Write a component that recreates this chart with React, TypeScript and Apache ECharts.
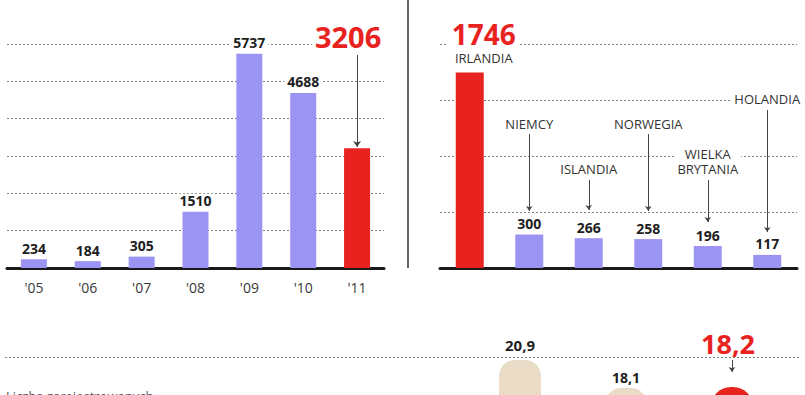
import React, { useEffect, useRef } from "react";
import * as echarts from "echarts";

const years = ["'05", "'06", "'07", "'08", "'09", "'10", "'11"];
const yearValues = [234, 184, 305, 1510, 5737, 4688, 3206];

const countries = ["IRLANDIA", "NIEMCY", "ISLANDIA", "NORWEGIA", "WIELKA\nBRYTANIA", "HOLANDIA"];
const countryValues = [1746, 300, 266, 258, 196, 117];

const bottomCats = ["'09", "'10", "'11"];
const bottomValues = [20.9, 18.1, 18.2];

const FONT = "Open Sans";
const LAV = "#9c94f3";
const RED = "#e8231f";
const BEIGE = "#ebdcc7";
const DOT = { type: [2, 2] as any, color: "#808080", width: 1 };

export default function App() {
  const ref = useRef<HTMLDivElement>(null);
  useEffect(() => {
    document.body.style.margin = "0";
    document.body.style.overflow = "hidden";
    const chart = echarts.init(ref.current!, null, { renderer: "svg" });
    const valLabel = {
      show: true,
      position: "top",
      distance: 4,
      fontFamily: FONT,
      fontWeight: "bold",
      fontSize: 14,
      color: "#1e1e1e",
      backgroundColor: "#fff",
      padding: [0, 3],
    };
    const countryLeaders: Record<string, [number, number, number]> = {
      NIEMCY: [1196, 509, 3],
      ISLANDIA: [786, 518, 3],
      NORWEGIA: [1196, 509, 3],
      "WIELKA\nBRYTANIA": [786, 411, 3],
      HOLANDIA: [1411, 321, 3],
    };
    const option: any = {
      animation: false,
      textStyle: { fontFamily: FONT },
      grid: [
        { left: 7, right: 421, top: 44, bottom: 127, outerBoundsMode: "none" },
        { left: 440, right: 8, top: 44, bottom: 127, outerBoundsMode: "none" },
        { left: 467, width: 318, top: 357, height: 212, outerBoundsMode: "none" },
      ],
      xAxis: [
        {
          type: "category",
          gridIndex: 0,
          data: years,
          axisLine: { lineStyle: { color: "#1a1a1a", width: 3 } },
          axisTick: { show: false },
          axisLabel: { color: "#3a3a3a", fontSize: 14, margin: 12, fontFamily: FONT },
        },
        {
          type: "category",
          gridIndex: 1,
          data: countries,
          axisLine: { lineStyle: { color: "#1a1a1a", width: 3 } },
          axisTick: { show: false },
          axisLabel: { show: false },
        },
        {
          type: "category",
          gridIndex: 2,
          data: bottomCats,
          axisLine: { show: false },
          axisTick: { show: false },
          axisLabel: { show: false },
        },
      ],
      yAxis: [
        {
          type: "value",
          gridIndex: 0,
          min: 0,
          max: 6000,
          interval: 1000,
          axisLabel: { show: false },
          axisLine: { show: false },
          axisTick: { show: false },
          splitLine: { lineStyle: DOT },
        },
        {
          type: "value",
          gridIndex: 1,
          min: 0,
          max: 2000,
          interval: 500,
          axisLabel: { show: false },
          axisLine: { show: false },
          axisTick: { show: false },
          splitLine: { lineStyle: DOT },
        },
        {
          type: "value",
          gridIndex: 2,
          min: 0,
          max: 21.2,
          axisLabel: { show: false },
          axisLine: { show: false },
          axisTick: { show: false },
          splitLine: { show: false },
        },
      ],
      series: [
        {
          type: "bar",
          xAxisIndex: 0,
          yAxisIndex: 0,
          barWidth: 26,
          z: 3,
          label: valLabel,
          data: yearValues.map((v, i) =>
            i === yearValues.length - 1
              ? { value: v, itemStyle: { color: RED }, label: { show: false } }
              : { value: v, itemStyle: { color: LAV } }
          ),
          markLine: {
            silent: true,
            symbol: ["none", "arrow"],
            symbolSize: 6,
            lineStyle: { type: "solid", color: "#444", width: 1 },
            data: [
              [
                {
                  coord: [years[6], 5706],
                  label: {
                    show: true,
                    position: "start",
                    distance: 3,
                    offset: [-9, 0],
                    formatter: String(yearValues[6]),
                    fontFamily: FONT,
                    fontWeight: "bold",
                    fontSize: 29,
                    lineHeight: 30,
                    color: RED,
                    backgroundColor: "#fff",
                    padding: [0, 3],
                  },
                },
                { coord: [years[6], 3241] },
              ],
            ],
          },
        },
        {
          type: "bar",
          xAxisIndex: 1,
          yAxisIndex: 1,
          barWidth: 28,
          z: 3,
          label: valLabel,
          data: countryValues.map((v, i) =>
            i === 0
              ? {
                  value: v,
                  itemStyle: { color: RED },
                  label: {
                    show: true,
                    position: "top",
                    distance: 4,
                    offset: [14, 0],
                    formatter: "{a|" + v + "}\n{b|" + countries[0] + "}",
                    backgroundColor: "transparent",
                    padding: 0,
                    rich: {
                      a: {
                        fontFamily: FONT,
                        fontWeight: "bold",
                        fontSize: 28,
                        lineHeight: 28,
                        color: RED,
                        backgroundColor: "#fff",
                        padding: [0, 4],
                      },
                      b: {
                        fontFamily: FONT,
                        fontWeight: "normal",
                        fontSize: 13,
                        lineHeight: 20,
                        color: "#333",
                      },
                    },
                  },
                }
              : { value: v, itemStyle: { color: LAV } }
          ),
          markLine: {
            silent: true,
            symbol: ["none", "arrow"],
            symbolSize: 5,
            lineStyle: { type: "solid", color: "#444", width: 1 },
            data: countries.slice(1).map((c) => {
              const [a, b, d] = countryLeaders[c];
              return [
                {
                  coord: [c, a],
                  label: {
                    show: true,
                    position: "start",
                    distance: d,
                    formatter: c,
                    fontFamily: FONT,
                    fontSize: 13,
                    lineHeight: 15,
                    color: "#333",
                    align: "center",
                    backgroundColor: "#fff",
                    padding: [0, 3],
                  },
                },
                { coord: [c, b] },
              ];
            }),
          },
        },
        {
          type: "bar",
          xAxisIndex: 2,
          yAxisIndex: 2,
          barWidth: 42,
          z: 3,
          data: bottomValues.map((v, i) =>
            i === 2
              ? {
                  value: v,
                  itemStyle: { color: RED, borderRadius: [20, 20, 0, 0] },
                  label: { show: false },
                }
              : {
                  value: v,
                  itemStyle: { color: BEIGE, borderRadius: [16, 16, 0, 0] },
                  label: {
                    show: true,
                    position: "top",
                    distance: i === 0 ? 8 : 4,
                    formatter: String(v).replace(".", ","),
                    fontFamily: FONT,
                    fontWeight: "bold",
                    fontSize: i === 0 ? 15 : 14,
                    color: "#1e1e1e",
                  },
                }
          ),
          markLine: {
            silent: true,
            symbol: ["none", "arrow"],
            symbolSize: 5,
            lineStyle: { type: "solid", color: "#444", width: 1 },
            data: [
              [
                {
                  coord: [bottomCats[2], 20.9],
                  label: {
                    show: true,
                    position: "start",
                    distance: 3,
                    offset: [-4, 0],
                    formatter: String(bottomValues[2]).replace(".", ","),
                    fontFamily: FONT,
                    fontWeight: "bold",
                    fontSize: 27,
                    lineHeight: 28,
                    color: RED,
                    backgroundColor: "#fff",
                    padding: [0, 4],
                  },
                },
                { coord: [bottomCats[2], 19.7] },
              ],
            ],
          },
        },
      ],
      graphic: [
        {
          type: "line",
          shape: { x1: 408, y1: 0, x2: 408, y2: 268 },
          style: { stroke: "#666", lineWidth: 2 },
          z: 1,
        },
        {
          type: "line",
          shape: { x1: 5, y1: 357.5, x2: 800, y2: 357.5 },
          style: { stroke: "#808080", lineWidth: 1, lineDash: [2, 2] },
          z: 0,
        },
        {
          type: "text",
          x: 6,
          y: 389,
          style: {
            text: "Liczba zarejestrowanych",
            fontFamily: FONT,
            fontSize: 13,
            fill: "#555",
            verticalAlign: "top",
          },
        },
      ],
    };
    chart.setOption(option);
    return () => chart.dispose();
  }, []);
  return <div ref={ref} style={{ width: 805, height: 395 }} />;
}
